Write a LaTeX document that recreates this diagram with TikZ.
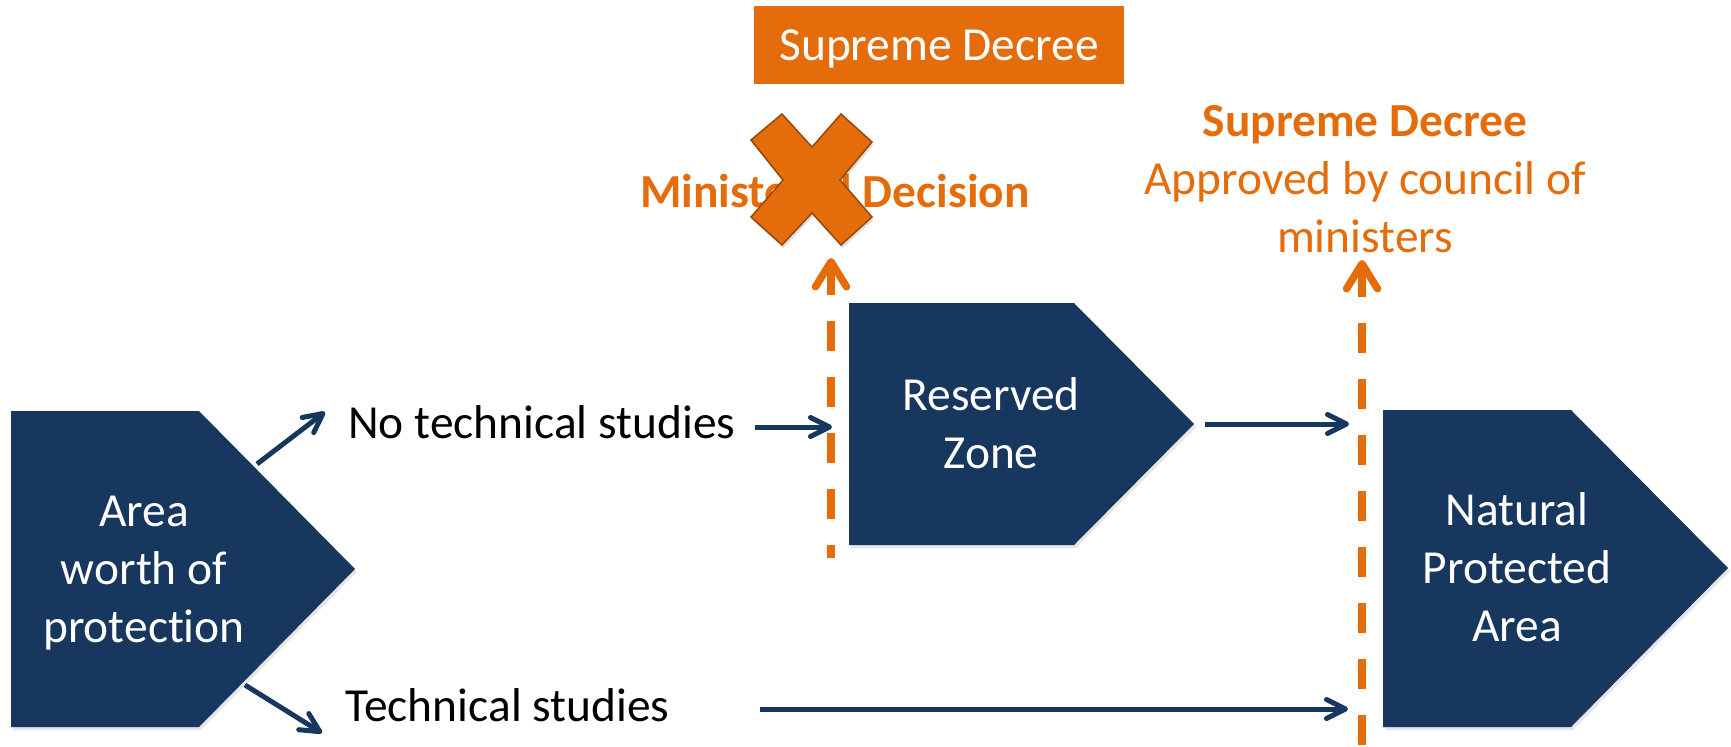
\documentclass[tikz,border=0pt]{standalone}
\usepackage{fontspec}
\setmainfont{Carlito}[Ligatures=NoCommon]
\usetikzlibrary{arrows.meta,shadows}
\definecolor{navy}{RGB}{23,55,94}
\definecolor{decree}{RGB}{228,108,10}
\definecolor{decreedark}{RGB}{152,72,7}
\tikzset{
  pentagon/.style={fill=navy, drop shadow={shadow xshift=0.04cm, shadow yshift=-0.06cm, opacity=0.2}},
  boxtext/.style={text=white, align=center, inner sep=0pt, anchor=base},
  lbl/.style={inner sep=0pt, anchor=base},
  flow/.style={draw=navy, line width=0.1cm, -{Straight Barb[length=0.38cm, width=0.38cm, round]}},
  gate/.style={draw=decree, line width=0.15cm, dash pattern=on 0.6cm off 0.52cm, {Straight Barb[length=0.5cm, width=0.62cm, round]}-}
}
\begin{document}
\begin{tikzpicture}[x=0.02cm, y=-0.02cm]
\fontsize{27}{33}\selectfont
\useasboundingbox (0,0) rectangle (1731,747);

\fill[pentagon] (11,411) -- (199,411) -- (355,569) -- (199,727) -- (11,727) -- cycle;
\fill[pentagon] (849,303) -- (1074,303) -- (1194,424) -- (1074,545) -- (849,545) -- cycle;
\fill[pentagon] (1383,410) -- (1571,410) -- (1728,568) -- (1571,727) -- (1383,727) -- cycle;

\node[boxtext] (area) at (144,642) {Area\\worth of\\protection};
\node[boxtext] (zone) at (991,468) {Reserved\\Zone};
\node[boxtext] (npa) at (1517,641) {Natural\\Protected\\Area};

\node[lbl, anchor=base west] (notech) at (348,438) {No technical studies};
\node[lbl, anchor=base west] (tech) at (345,721) {Technical studies};

\node[fill=decree, text=white, minimum width=7.4cm, minimum height=1.56cm, inner sep=0pt, text depth=0pt] (sdbox) at (939,45) {Supreme Decree};
\node[lbl, text=decree, font=\bfseries] (minist) at (835,207) {Ministerial Decision};
\node[lbl, text=decree, align=center] (approval) at (1365,252) {\textbf{Supreme Decree}\\Approved by council of\\ministers};

\filldraw[fill=decree, draw=decreedark, line width=0.03cm, drop shadow={shadow xshift=0.03cm, shadow yshift=-0.06cm, opacity=0.25}]
  (782,114) -- (812,147) -- (841,114) -- (872,142) -- (840,180) -- (872,217)
  -- (841,245) -- (812,213) -- (782,245) -- (751,217) -- (783,180) -- (751,140) -- cycle;

\coordinate (gate1top) at (831,258);
\coordinate (gate1bot) at (831,558);
\coordinate (gate2top) at (1362,260);
\coordinate (gate2bot) at (1362,747);
\draw[gate] (gate1top) -- (gate1bot);
\draw[gate] (gate2top) -- (gate2bot);

\coordinate (forkup) at (257,464);
\coordinate (forkupend) at (325,412);
\coordinate (forkdown) at (245,685);
\coordinate (forkdownend) at (322,733);
\coordinate (notechend) at (755,427);
\coordinate (zonein) at (832,427);
\coordinate (zoneout) at (1205,424);
\coordinate (npain) at (1349,424);
\coordinate (techend) at (760,709);
\coordinate (npain2) at (1348,709);
\draw[flow] (forkup) -- (forkupend);
\draw[flow] (forkdown) -- (forkdownend);
\draw[flow] (notechend) -- (zonein);
\draw[flow] (zoneout) -- (npain);
\draw[flow] (techend) -- (npain2);
\end{tikzpicture}
\end{document}
